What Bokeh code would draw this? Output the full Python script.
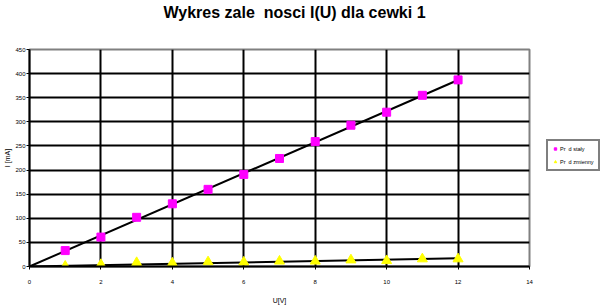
from bokeh.plotting import figure
from bokeh.models import FixedTicker, Legend, LegendItem, ColumnDataSource, Title
from bokeh.layouts import row
from bokeh.embed import file_html
from bokeh.resources import INLINE
import numpy as np

# Data
u_volts = [1, 2, 3, 4, 5, 6, 7, 8, 9, 10, 11, 12]
i_dc = [33, 61, 102, 130, 160, 191, 224, 259, 293, 320, 355, 387]
i_ac = [0.5, 4, 8, 7, 9.5, 9, 11, 11, 13.5, 12, 15.7, 15.7]
x_ticks = [0, 2, 4, 6, 8, 10, 12, 14]
y_ticks = [0, 50, 100, 150, 200, 250, 300, 350, 400, 450]
title_text = "Wykres zale\u00a0 nosci I(U) dla cewki 1"
label_dc = "Pr\u00a0 d stały"
label_ac = "Pr\u00a0 d zmienny"

src = ColumnDataSource(dict(u=u_volts, dc=i_dc, ac=i_ac))

# linear trendlines through origin (least squares)
ux = np.array(u_volts, dtype=float)
s_dc = float(np.sum(ux * np.array(i_dc)) / np.sum(ux * ux))
s_ac = float(np.sum(ux * np.array(i_ac)) / np.sum(ux * ux))
tx = [0.0, float(max(u_volts))]

BORDERS = dict(min_border_top=49, min_border_bottom=36)

p = figure(width=545, height=306, output_backend="svg", toolbar_location=None,
           x_range=(0, 14), y_range=(0, 450),
           min_border_left=29, min_border_right=16, **BORDERS)

# empty spacer panel between the title and the plot frame
p.add_layout(Title(text=" ", text_font_size="1px", standoff=22), "above")

p.title.text = title_text
p.title.text_font = "Liberation Sans"
p.title.text_font_size = "16px"
p.title.text_font_style = "bold"
p.title.text_color = "black"
p.title.align = "left"
p.title.offset = 134
p.title.vertical_align = "top"
p.title.standoff = 4

p.outline_line_color = "#808080"
p.outline_line_width = 2
p.background_fill_color = "white"
p.border_fill_color = "white"

for ax in (p.xaxis[0], p.yaxis[0]):
    ax.axis_line_color = "black"
    ax.axis_line_width = 2
    ax.major_tick_line_color = "black"
    ax.major_tick_line_width = 1
    ax.major_tick_out = 3
    ax.major_tick_in = 0
    ax.minor_tick_line_color = None
    ax.major_label_text_font = "Liberation Sans"
    ax.major_label_text_font_size = "6px"
    ax.major_label_text_color = "black"
    ax.axis_label_text_font = "Liberation Sans"
    ax.axis_label_text_font_size = "7px"
    ax.axis_label_text_font_style = "normal"
    ax.axis_label_text_color = "black"

p.xaxis.ticker = FixedTicker(ticks=x_ticks)
p.yaxis.ticker = FixedTicker(ticks=y_ticks)
p.xaxis.axis_label = "U[V]"
p.yaxis.axis_label = "I [mA]"
p.xaxis.major_label_standoff = 10
p.xaxis.axis_label_standoff = 10
p.yaxis.major_label_standoff = 1
p.yaxis.axis_label_standoff = 1

p.xgrid.ticker = FixedTicker(ticks=x_ticks[1:-1])
p.ygrid.ticker = FixedTicker(ticks=y_ticks[1:-1])
for g in (p.xgrid[0], p.ygrid[0]):
    g.grid_line_color = "black"
    g.grid_line_width = 2

p.line(tx, [s_dc * t for t in tx], line_color="black", line_width=2)
p.line(tx, [s_ac * t for t in tx], line_color="black", line_width=2)

dc_style = dict(marker="square", fill_color="#FF00FF", line_color="#FF00FF")
ac_style = dict(marker="triangle", fill_color="#FFFF00", line_color="#FFFF00")
p.scatter("u", "dc", source=src, size=8, **dc_style)
p.scatter("u", "ac", source=src, size=10, **ac_style)

# separate legend panel at right (its ranges keep the data points out of view)
pl = figure(width=55, height=306, output_backend="svg", toolbar_location=None,
            x_axis_location=None, y_axis_location=None,
            min_border_left=0, min_border_right=0, **BORDERS,
            outline_line_color=None, x_range=(1000, 1001), y_range=(1000, 1001))
pl.grid.visible = False
pl.background_fill_color = "white"
pl.border_fill_color = "white"
l_dc = pl.scatter("u", "dc", source=src, size=6, **dc_style)
l_ac = pl.scatter("u", "ac", source=src, size=7, **ac_style)

legend = Legend(items=[LegendItem(label=label_dc, renderers=[l_dc]),
                       LegendItem(label=label_ac, renderers=[l_ac])],
                location=(1, 95))
legend.border_line_color = "black"
legend.border_line_width = 2
legend.label_text_font = "Liberation Sans"
legend.label_text_font_size = "5.5px"
legend.label_text_color = "black"
legend.glyph_width = 6
legend.glyph_height = 7
legend.label_height = 7
legend.label_standoff = 2
legend.padding = 4
legend.spacing = 6
legend.margin = 0
legend.background_fill_color = "white"
pl.add_layout(legend, "center")

layout = row(p, pl, spacing=0)
open("out.html", "w").write(file_html(layout, INLINE))
